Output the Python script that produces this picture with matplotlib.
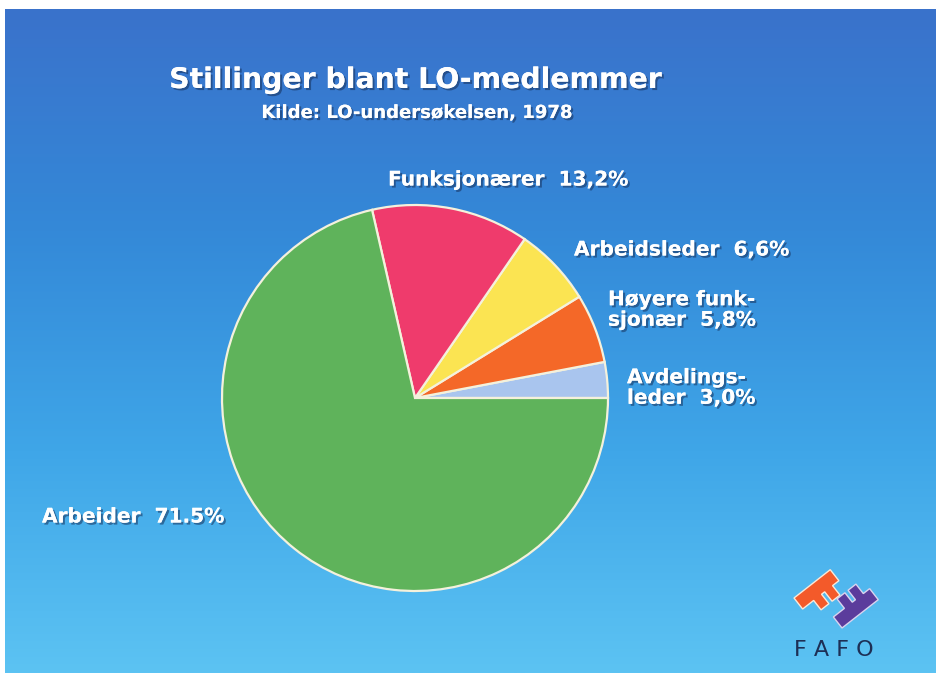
import numpy as np
import matplotlib
matplotlib.use('Agg')
import matplotlib.pyplot as plt
import matplotlib.patheffects as pe
from matplotlib.colors import LinearSegmentedColormap
from matplotlib.patches import Polygon

# data
kategorier = ['Avdelingsleder', 'Høyere funksjonær', 'Arbeidsleder', 'Funksjonærer', 'Arbeider']
andel = [3.0, 5.8, 6.6, 13.2, 71.5]
etiketter = ['Avdelings-\nleder  3,0%', 'Høyere funk-\nsjonær  5,8%', 'Arbeidsleder  6,6%',
             'Funksjonærer  13,2%', 'Arbeider  71.5%']
farger = ['#a9c5ee', '#f46828', '#fbe452', '#ef3b6c', '#5fb35b']

W, H = 939, 678
fig = plt.figure(figsize=(W / 100, H / 100), dpi=100, facecolor='white')
ax = fig.add_axes([0, 0, 1, 1])

# blue gradient background (dark at top, light at bottom)
cmap = LinearSegmentedColormap.from_list('bg', ['#3a72cb', '#3489d8', '#3fa6e8', '#5cc3f3'])
grad = np.linspace(0, 1, 256).reshape(-1, 1)
ax.imshow(grad, cmap=cmap, extent=(5, 936, 5, 669), aspect='auto', zorder=0)

# pie
wedges, _ = ax.pie(andel, startangle=0, counterclock=True, colors=farger,
                   center=(415, 280), radius=193, frame=True,
                   wedgeprops=dict(edgecolor='#f4f1dc', linewidth=1.6))
for w in wedges:
    w.set_zorder(2)

ax.set_xlim(0, W)
ax.set_ylim(0, H)
ax.set_aspect('equal')
ax.axis('off')

skygge = [pe.withSimplePatchShadow(offset=(1.5, -1.5), shadow_rgbFace='#16305a', alpha=0.55), pe.Normal()]
font = 'DejaVu Sans'

ax.text(416, 598, 'Stillinger blant LO-medlemmer', ha='center', va='center', color='white',
        fontsize=20.4, fontweight='bold', family=font, path_effects=skygge, zorder=3)
ax.text(416, 565, 'Kilde: LO-undersøkelsen, 1978', ha='center', va='center', color='white',
        fontsize=13, fontweight='bold', family=font, path_effects=skygge, zorder=3)

pos = [(627, 290), (608, 368), (574, 428), (388, 498), (42, 161)]
for (x, y), t in zip(pos, etiketter):
    ax.text(x, y, t, ha='left', va='center', color='white', fontsize=14.5, fontweight='bold',
            family=font, linespacing=1.1, path_effects=skygge, zorder=3)

# FAFO logo
def form(x0, y0, pts, ang):
    a = np.deg2rad(ang)
    r = np.array([[np.cos(a), -np.sin(a)], [np.sin(a), np.cos(a)]])
    p = np.array(pts, dtype=float) @ r.T
    return p + [x0, y0]

f_form = [(0, 0), (46, 0), (46, -14), (38, -14), (38, -26), (28, -26), (28, -14),
          (24, -14), (24, -26), (14, -26), (14, -14), (0, -14)]
ax.add_patch(Polygon(form(794, 80, f_form, 38), closed=True, fc='#f35a2a', ec='#fbe9d8', lw=1, zorder=3))
g_form = [(0, 0), (46, 0), (46, 14), (38, 14), (38, 26), (28, 26), (28, 14),
          (24, 14), (24, 26), (14, 26), (14, 14), (0, 14)]
ax.add_patch(Polygon(form(842, 50, g_form, 38), closed=True, fc='#5b3c9c', ec='#d9d3ee', lw=1, zorder=3))
ax.text(834, 28, 'F A F O', ha='center', va='center', color='#1d2f55', fontsize=16, family=font, zorder=3)

fig.savefig('out.png', dpi=100, facecolor='white')
